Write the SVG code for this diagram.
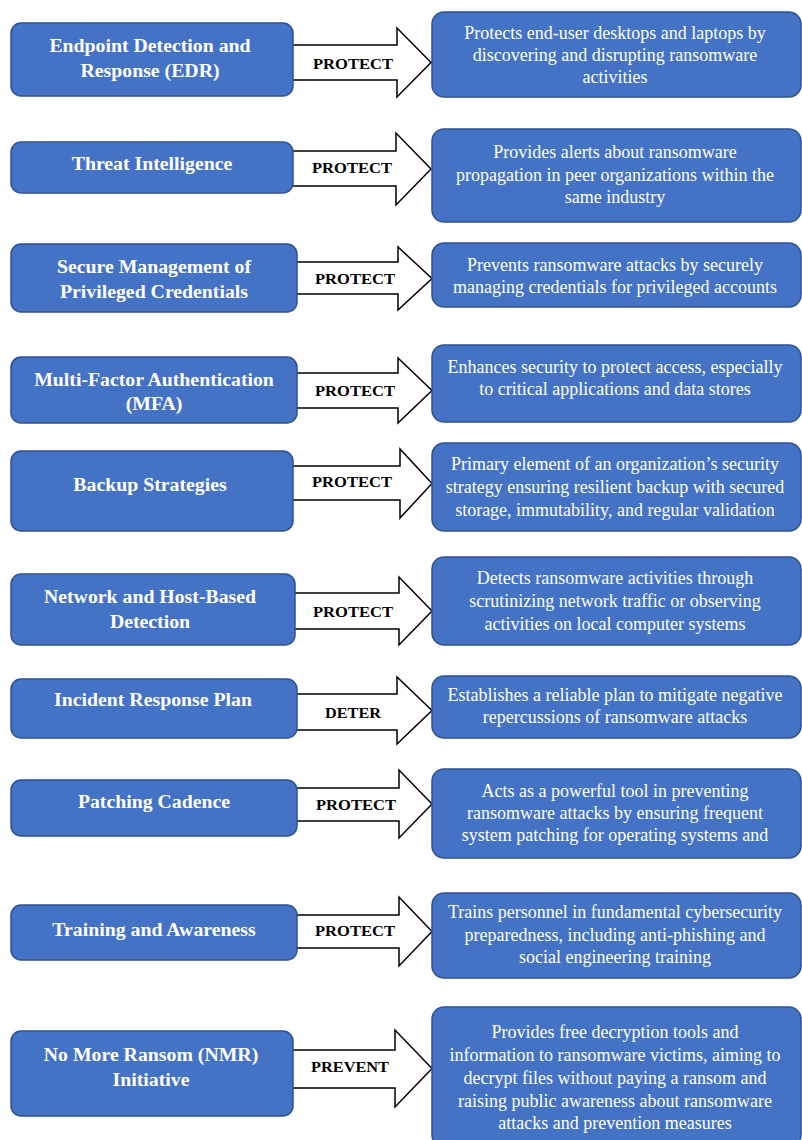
<svg xmlns="http://www.w3.org/2000/svg" width="802" height="1140" viewBox="0 0 802 1140">
<style>
.box{fill:#4472C4;stroke:#2F528F;stroke-width:1.5}
.lt{font-family:"Liberation Serif","Times New Roman",serif;font-weight:bold;font-size:19.8px;fill:#fff;text-anchor:middle}
.rt{font-family:"Liberation Serif","Times New Roman",serif;font-size:18px;fill:#fff;text-anchor:middle}
.arr{fill:#fff;stroke:#000;stroke-width:1.5;stroke-linejoin:miter}
.al{font-family:"Liberation Serif","Times New Roman",serif;font-weight:bold;font-size:14px;fill:#000;text-anchor:middle}
</style>
<rect width="802" height="1140" fill="#fff"/>
<g id="connectors">
<polygon class="arr" points="290,45 397,45 397,28 431,62.5 397,97 397,80 290,80"/>
<text class="al" x="353" y="69" textLength="80" lengthAdjust="spacingAndGlyphs">PROTECT</text>
<polygon class="arr" points="290,151 396,151 396,133 431,169 396,205 396,186 290,186"/>
<text class="al" x="352" y="173" textLength="80" lengthAdjust="spacingAndGlyphs">PROTECT</text>
<polygon class="arr" points="294,262 398,262 398,247 432,278.5 398,310 398,294 294,294"/>
<text class="al" x="355" y="284" textLength="80" lengthAdjust="spacingAndGlyphs">PROTECT</text>
<polygon class="arr" points="294,373 398,373 398,358 432,390.5 398,423 398,408 294,408"/>
<text class="al" x="355" y="396" textLength="80" lengthAdjust="spacingAndGlyphs">PROTECT</text>
<polygon class="arr" points="290,466 400,466 400,449 432,483.5 400,518 400,500 290,500"/>
<text class="al" x="352" y="487" textLength="80" lengthAdjust="spacingAndGlyphs">PROTECT</text>
<polygon class="arr" points="292,593 399,593 399,577 432,611 399,645 399,629 292,629"/>
<text class="al" x="353" y="617" textLength="80" lengthAdjust="spacingAndGlyphs">PROTECT</text>
<polygon class="arr" points="294,694 397,694 397,677 432,710.5 397,744 397,730 294,730"/>
<text class="al" x="353" y="718" textLength="56" lengthAdjust="spacingAndGlyphs">DETER</text>
<polygon class="arr" points="294,788 399,788 399,770 432,804 399,838 399,821 294,821"/>
<text class="al" x="356" y="810" textLength="80" lengthAdjust="spacingAndGlyphs">PROTECT</text>
<polygon class="arr" points="294,915 399,915 399,897 432,931.5 399,966 399,948 294,948"/>
<text class="al" x="355" y="936" textLength="80" lengthAdjust="spacingAndGlyphs">PROTECT</text>
<polygon class="arr" points="290,1050 395,1050 395,1030 432,1068.5 395,1107 395,1088 290,1088"/>
<text class="al" x="350" y="1072" textLength="78" lengthAdjust="spacingAndGlyphs">PREVENT</text>
</g>
<g id="n1"><rect class="box" x="11" y="23" width="282" height="73" rx="10"/>
<text class="lt" x="150" y="52">Endpoint Detection and</text><text class="lt" x="150" y="77">Response (EDR)</text></g>
<g id="d1"><rect class="box" x="432" y="12" width="369" height="85" rx="12"/>
<text class="rt" x="615" y="39">Protects end-user desktops and laptops by</text><text class="rt" x="615" y="61">discovering and disrupting ransomware</text><text class="rt" x="615" y="83">activities</text></g>
<g id="n2"><rect class="box" x="11" y="142" width="282" height="51" rx="10"/>
<text class="lt" x="152" y="170">Threat Intelligence</text></g>
<g id="d2"><rect class="box" x="432" y="129" width="369" height="93" rx="12"/>
<text class="rt" x="615" y="158">Provides alerts about ransomware</text><text class="rt" x="615" y="181">propagation in peer organizations within the</text><text class="rt" x="615" y="203">same industry</text></g>
<g id="n3"><rect class="box" x="11" y="244" width="286" height="68" rx="10"/>
<text class="lt" x="154" y="273">Secure Management of</text><text class="lt" x="154" y="298">Privileged Credentials</text></g>
<g id="d3"><rect class="box" x="432" y="243" width="369" height="64" rx="12"/>
<text class="rt" x="615" y="271">Prevents ransomware attacks by securely</text><text class="rt" x="615" y="293">managing credentials for privileged accounts</text></g>
<g id="n4"><rect class="box" x="11" y="357" width="286" height="66" rx="10"/>
<text class="lt" x="154" y="386">Multi-Factor Authentication</text><text class="lt" x="154" y="410">(MFA)</text></g>
<g id="d4"><rect class="box" x="432" y="345" width="369" height="77" rx="12"/>
<text class="rt" x="615" y="373">Enhances security to protect access, especially</text><text class="rt" x="615" y="395">to critical applications and data stores</text></g>
<g id="n5"><rect class="box" x="11" y="451" width="282" height="80" rx="10"/>
<text class="lt" x="150" y="491">Backup Strategies</text></g>
<g id="d5"><rect class="box" x="432" y="443" width="369" height="88" rx="12"/>
<text class="rt" x="615" y="470">Primary element of an organization’s security</text><text class="rt" x="615" y="493">strategy ensuring resilient backup with secured</text><text class="rt" x="615" y="516">storage, immutability, and regular validation</text></g>
<g id="n6"><rect class="box" x="11" y="574" width="284" height="71" rx="10"/>
<text class="lt" x="150" y="603">Network and Host-Based</text><text class="lt" x="150" y="628">Detection</text></g>
<g id="d6"><rect class="box" x="432" y="557" width="369" height="88" rx="12"/>
<text class="rt" x="615" y="584">Detects ransomware activities through</text><text class="rt" x="615" y="607">scrutinizing network traffic or observing</text><text class="rt" x="615" y="630">activities on local computer systems</text></g>
<g id="n7"><rect class="box" x="11" y="679" width="286" height="59" rx="10"/>
<text class="lt" x="153" y="706">Incident Response Plan</text></g>
<g id="d7"><rect class="box" x="432" y="676" width="369" height="62" rx="12"/>
<text class="rt" x="615" y="701">Establishes a reliable plan to mitigate negative</text><text class="rt" x="615" y="723">repercussions of ransomware attacks</text></g>
<g id="n8"><rect class="box" x="11" y="780" width="286" height="56" rx="10"/>
<text class="lt" x="154" y="808">Patching Cadence</text></g>
<g id="d8"><rect class="box" x="432" y="769" width="369" height="89" rx="12"/>
<text class="rt" x="615" y="797">Acts as a powerful tool in preventing</text><text class="rt" x="615" y="819">ransomware attacks by ensuring frequent</text><text class="rt" x="615" y="841">system patching for operating systems and</text></g>
<g id="n9"><rect class="box" x="11" y="905" width="286" height="55" rx="10"/>
<text class="lt" x="154" y="936">Training and Awareness</text></g>
<g id="d9"><rect class="box" x="432" y="893" width="369" height="85" rx="12"/>
<text class="rt" x="615" y="918">Trains personnel in fundamental cybersecurity</text><text class="rt" x="615" y="941">preparedness, including anti-phishing and</text><text class="rt" x="615" y="963">social engineering training</text></g>
<g id="n10"><rect class="box" x="11" y="1031" width="282" height="85" rx="10"/>
<text class="lt" x="151" y="1061">No More Ransom (NMR)</text><text class="lt" x="151" y="1086">Initiative</text></g>
<g id="d10"><rect class="box" x="432" y="1007" width="369" height="140" rx="12"/>
<text class="rt" x="615" y="1038">Provides free decryption tools and</text><text class="rt" x="615" y="1061">information to ransomware victims, aiming to</text><text class="rt" x="615" y="1084">decrypt files without paying a ransom and</text><text class="rt" x="615" y="1107">raising public awareness about ransomware</text><text class="rt" x="615" y="1129">attacks and prevention measures</text></g>
</svg>
